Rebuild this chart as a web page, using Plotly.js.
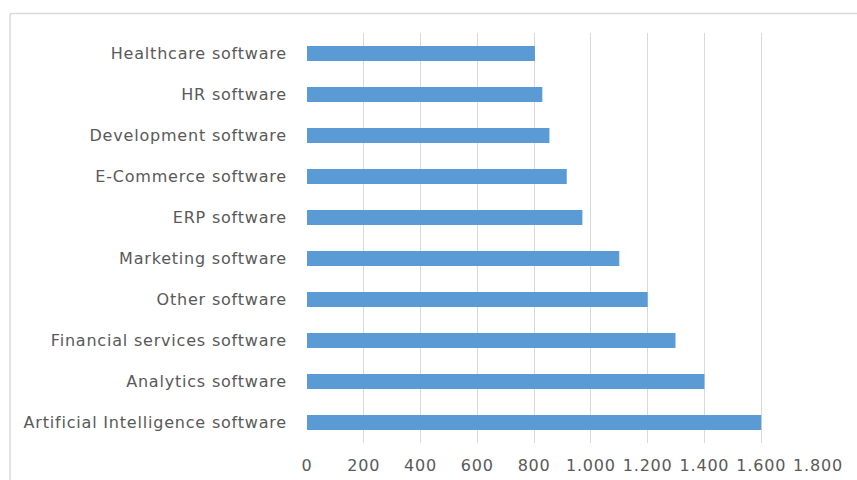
<!DOCTYPE html>
<html>
<head>
<meta charset="utf-8">
<script src="https://cdn.plot.ly/plotly-3.0.1.min.js"></script>
<style>
html,body{margin:0;padding:0;background:#fff;}
#chart{width:857px;height:480px;}
#chart .ytick text, #chart .xtick text{letter-spacing:0.8px;}
</style>
</head>
<body>
<div id="chart"></div>
<script>
const categories = [
  "Healthcare software",
  "HR software",
  "Development software",
  "E-Commerce software",
  "ERP software",
  "Marketing software",
  "Other software",
  "Financial services software",
  "Analytics software",
  "Artificial Intelligence software"
];
const values = [803, 829, 854, 915, 970, 1100, 1200, 1298, 1400, 1600];
const xTickValues = [0, 200, 400, 600, 800, 1000, 1200, 1400, 1600, 1800];

const W = 857, H = 480;
const m = {l: 307, r: 39, t: 33, b: 37};
const pw = W - m.l - m.r, ph = H - m.t - m.b;
const px = v => (v - m.l) / pw;
const py = v => (H - m.b - v) / ph;

const trace = {
  type: 'bar',
  orientation: 'h',
  x: values,
  y: categories,
  marker: {color: '#5b9bd5'},
  hoverinfo: 'x+y'
};

const layout = {
  width: W, height: H,
  margin: m,
  paper_bgcolor: '#ffffff',
  plot_bgcolor: '#ffffff',
  separators: ',.',
  bargap: 0.63,
  showlegend: false,
  font: {family: '"DejaVu Sans", sans-serif', size: 16, color: '#595959'},
  xaxis: {
    range: [0, 1800],
    tickvals: xTickValues,
    tickformat: ',d',
    showgrid: true,
    gridcolor: '#d9d9d9',
    gridwidth: 1,
    zeroline: false,
    showline: false,
    ticks: '',
    ticklabelstandoff: 11,
    tickfont: {size: 16, color: '#595959'}
  },
  yaxis: {
    type: 'category',
    autorange: 'reversed',
    showgrid: false,
    zeroline: false,
    showline: false,
    ticks: '',
    ticklabelstandoff: 19,
    tickfont: {size: 16, color: '#595959'}
  },
  shapes: [
    {type: 'line', xref: 'paper', yref: 'paper', x0: px(10), x1: px(860), y0: py(13.5), y1: py(13.5), line: {color: '#d9d9d9', width: 1.5}},
    {type: 'line', xref: 'paper', yref: 'paper', x0: px(10), x1: px(10), y0: py(13.5), y1: py(485), line: {color: '#d9d9d9', width: 1.5}}
  ]
};

Plotly.newPlot('chart', [trace], layout, {displayModeBar: false, staticPlot: true});
</script>
</body>
</html>
